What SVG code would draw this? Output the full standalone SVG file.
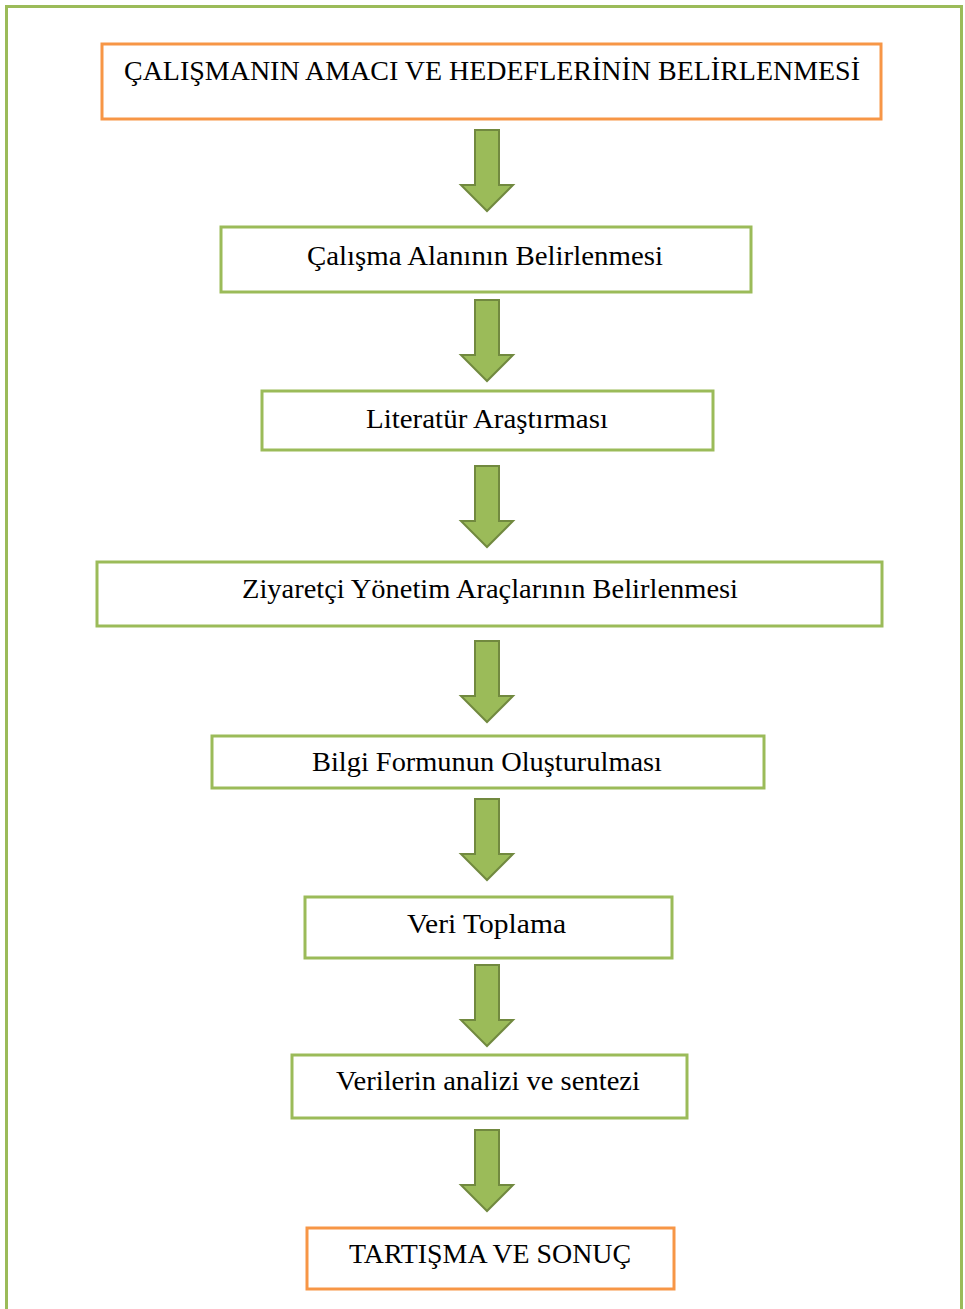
<svg xmlns="http://www.w3.org/2000/svg" xmlns:xlink="http://www.w3.org/1999/xlink" width="965" height="1309" viewBox="0 0 965 1309">
<style>
.frame{fill:none;stroke:#9BBB59;stroke-width:3}
.g{fill:#FFFFFF;stroke:#9BBB59;stroke-width:3}
.o{fill:#FFFFFF;stroke:#F79646;stroke-width:3}
.t{font-family:"Liberation Serif","Times New Roman",serif;font-size:27px;fill:#000000}
.arr{fill:#9BBB59;stroke:#71893F;stroke-width:2;stroke-linejoin:miter}
</style>
<defs>
<path id="down" d="M -12 0 L 12 0 L 12 55 L 26 55 L 0 81 L -26 55 L -12 55 Z"/>
</defs>
<rect width="965" height="1309" fill="#FFFFFF"/>
<rect class="frame" x="6.5" y="6.5" width="955" height="1330"/>
<g id="connectors">
<use xlink:href="#down" class="arr" x="487" y="130"/>
<use xlink:href="#down" class="arr" x="487" y="300"/>
<use xlink:href="#down" class="arr" x="487" y="466"/>
<use xlink:href="#down" class="arr" x="487" y="641"/>
<use xlink:href="#down" class="arr" x="487" y="799"/>
<use xlink:href="#down" class="arr" x="487" y="965"/>
<use xlink:href="#down" class="arr" x="487" y="1130"/>
</g>
<g id="node1">
<rect class="o" x="102" y="44" width="779" height="75"/>
<text class="t" x="124" y="80" textLength="736" lengthAdjust="spacingAndGlyphs">ÇALIŞMANIN AMACI VE HEDEFLERİNİN BELİRLENMESİ</text>
</g>
<g id="node2">
<rect class="g" x="221" y="227" width="530" height="65"/>
<text class="t" x="307" y="265" textLength="356" lengthAdjust="spacingAndGlyphs">Çalışma Alanının Belirlenmesi</text>
</g>
<g id="node3">
<rect class="g" x="262" y="391" width="451" height="59"/>
<text class="t" x="366" y="428" textLength="242" lengthAdjust="spacingAndGlyphs">Literatür Araştırması</text>
</g>
<g id="node4">
<rect class="g" x="97" y="562" width="785" height="64"/>
<text class="t" x="242" y="598" textLength="496" lengthAdjust="spacingAndGlyphs">Ziyaretçi Yönetim Araçlarının Belirlenmesi</text>
</g>
<g id="node5">
<rect class="g" x="212" y="736" width="552" height="52"/>
<text class="t" x="312" y="771" textLength="350" lengthAdjust="spacingAndGlyphs">Bilgi Formunun Oluşturulması</text>
</g>
<g id="node6">
<rect class="g" x="305" y="897" width="367" height="61"/>
<text class="t" x="407" y="933" textLength="159" lengthAdjust="spacingAndGlyphs">Veri Toplama</text>
</g>
<g id="node7">
<rect class="g" x="292" y="1055" width="395" height="63"/>
<text class="t" x="336" y="1090" textLength="304" lengthAdjust="spacingAndGlyphs">Verilerin analizi ve sentezi</text>
</g>
<g id="node8">
<rect class="o" x="307" y="1228" width="367" height="61"/>
<text class="t" x="349" y="1263" textLength="282" lengthAdjust="spacingAndGlyphs">TARTIŞMA VE SONUÇ</text>
</g>
</svg>
